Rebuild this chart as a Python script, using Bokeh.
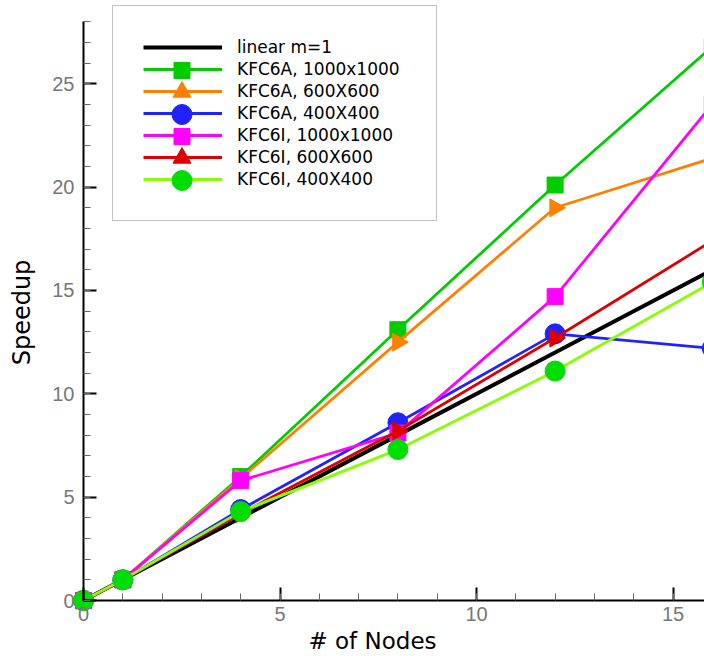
import math
from bokeh.plotting import figure
from bokeh.models import Legend, LegendItem, SingleIntervalTicker, Range1d, Title
from bokeh.embed import file_html
from bokeh.resources import INLINE

nodes = [0, 1, 4, 8, 12, 16]
linear = [0, 1, 4, 8, 12, 16]
kfc6a_1000 = [0, 1, 6.0, 13.1, 20.1, 26.8]
kfc6a_600 = [0, 1, 5.9, 12.5, 19.0, 21.4]
kfc6a_400 = [0, 1, 4.4, 8.6, 12.9, 12.2]
kfc6i_1000 = [0, 1, 5.8, 8.1, 14.7, 24.0]
kfc6i_600 = [0, 1, 4.2, 8.2, 12.7, 17.4]
kfc6i_400 = [0, 1, 4.3, 7.3, 11.1, 15.4]
series_labels = ["linear m=1", "KFC6A, 1000x1000", "KFC6A, 600X600", "KFC6A, 400X400",
                 "KFC6I, 1000x1000", "KFC6I, 600X600", "KFC6I, 400X400"]

TICK_FONT = "Liberation Sans"
FONT = "DejaVu Sans"

# layout (pixels): frame left 40, right 704, top 0, bottom 624 ; x=0 at px 83, y=0 at px 600
FL, FR, FT, FB = 40, 704, 0, 624
X0, Y0 = 83, 600
XS = 39.3   # px per x unit
YS = 20.67  # px per y unit
p = figure(width=704, height=656, output_backend="svg", toolbar_location=None,
           x_range=Range1d(-(X0 - FL) / XS, (FR - X0) / XS),
           y_range=Range1d(-(FB - Y0) / YS, (Y0 - FT) / YS),
           min_border_left=FL, min_border_right=0, min_border_top=FT, min_border_bottom=656 - FB)
p.outline_line_color = None
p.grid.visible = False
p.background_fill_color = "white"

for ax, bnd, so in ((p.xaxis[0], (0, (FR - X0) / XS), 6), (p.yaxis[0], (0, 28), 9)):
    ax.ticker = SingleIntervalTicker(interval=5, num_minor_ticks=5)
    ax.bounds = bnd
    ax.fixed_location = 0
    ax.axis_line_color = "black"
    ax.axis_line_width = 2
    ax.major_tick_in = 13
    ax.major_tick_out = 0
    ax.minor_tick_in = 7
    ax.minor_tick_out = 0
    ax.major_tick_line_width = 2
    ax.major_tick_line_color = "black"
    ax.minor_tick_line_color = "#666666"
    ax.major_label_standoff = so
    ax.major_label_text_font = TICK_FONT
    ax.major_label_text_font_size = "20px"
    ax.major_label_text_color = "#777777"

p.add_layout(Title(text="Speedup", align="center", text_font=FONT, text_font_size="24px",
                   text_font_style="normal", text_color="black"), "left")
p.add_layout(Title(text="# of Nodes", align="center", offset=23, standoff=2, text_font=FONT,
                   text_font_size="23px", text_font_style="normal", text_color="black"), "below")

line_items = []
r = p.line(nodes, linear, line_color="black", line_width=4)
line_items.append(LegendItem(label=series_labels[0], renderers=[r]))

specs = [
    (kfc6a_1000, "#00cc00", "square", "#00cc00", 16),
    (kfc6a_600, "#ff8000", "triangle", "#ff8000", 18),
    (kfc6a_400, "#2222ff", "circle", "#2222ff", 20),
    (kfc6i_1000, "#ff00ff", "square", "#ff00ff", 16),
    (kfc6i_600, "#dd0000", "triangle", "#dd0000", 18),
    (kfc6i_400, "#88ff00", "circle", "#00dd00", 20),
]
marker_renderers = []
for (vals, lc, mk, mc, sz), lab in zip(specs, series_labels[1:]):
    l = p.line(nodes, vals, line_color=lc, line_width=2.8)
    ang = -math.pi / 2 if mk == "triangle" else 0
    s = p.scatter(nodes, vals, marker=mk, size=sz, fill_color=mc, line_color=mc, angle=ang)
    line_items.append(LegendItem(label=lab, renderers=[l]))
    marker_renderers.append((s, sz))

# main legend box (lines + labels)
LB_LEFT, LB_BOTTOM = 112, 221
PAD, PITCH, GW = 30, 22, 79
legend = Legend(items=line_items, location=(LB_LEFT - FL, FB - LB_BOTTOM))
legend.margin = 0
legend.padding = PAD
legend.spacing = 0
legend.glyph_width = GW
legend.glyph_height = PITCH
legend.label_height = PITCH
legend.label_width = 169
legend.label_standoff = 15
legend.label_text_font = FONT
legend.label_text_font_size = "17px"
legend.label_text_color = "black"
legend.border_line_color = "#888888"
legend.border_line_width = 1
legend.background_fill_alpha = 1
p.add_layout(legend, "center")

# larger legend markers drawn over the legend lines
legend_top = LB_BOTTOM - (2 * PAD + PITCH * len(line_items))
for i, (s, sz) in enumerate(marker_renderers, start=1):
    gh = int(round(sz / 0.4))
    cy = legend_top + PAD + PITCH * i + PITCH / 2
    ml = Legend(items=[LegendItem(label=" ", renderers=[s])],
                location=(LB_LEFT + PAD - FL, int(round(FB - (cy + gh / 2)))))
    ml.margin = 0
    ml.padding = 0
    ml.spacing = 0
    ml.glyph_width = GW
    ml.glyph_height = gh
    ml.label_height = 1
    ml.label_width = 0
    ml.label_standoff = 0
    ml.label_text_font_size = "1px"
    ml.border_line_color = None
    ml.background_fill_alpha = 0
    p.add_layout(ml, "center")

open("out.html", "w").write(file_html(p, INLINE))
